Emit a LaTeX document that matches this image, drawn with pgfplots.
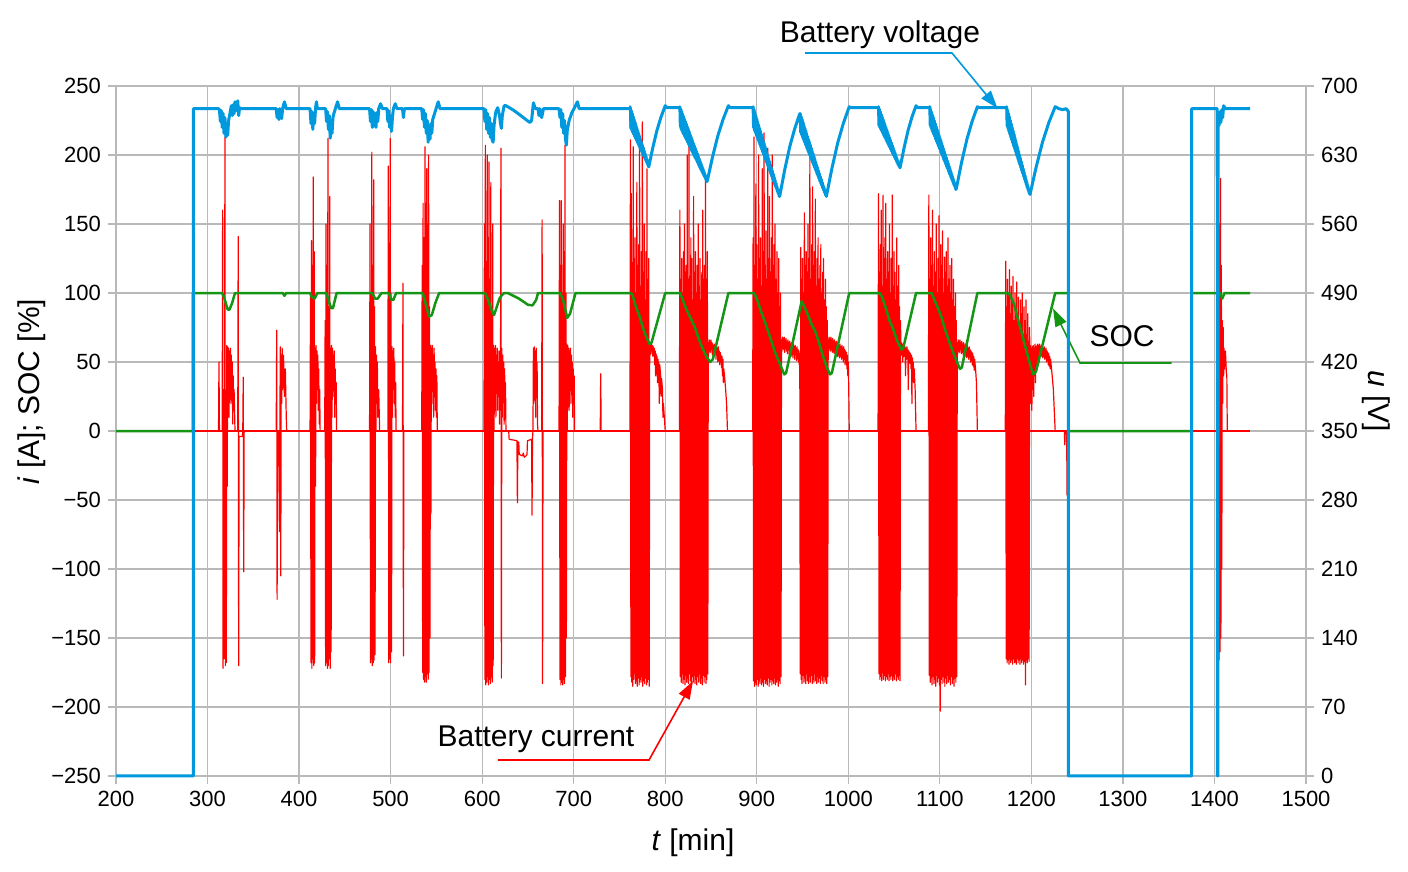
\documentclass[border=0pt]{standalone}
\usepackage{fontspec}
\setmainfont{Liberation Sans}
\usepackage{pgfplots}
\pgfplotsset{compat=1.18}
\usetikzlibrary{arrows.meta}
\definecolor{voltblue}{RGB}{0,153,221}
\definecolor{socgreen}{RGB}{20,150,20}
\definecolor{curred}{RGB}{255,0,0}
\definecolor{gridgray}{RGB}{185,185,185}
\newcommand{\tickfont}{\fontsize{11}{13}\selectfont}
\newcommand{\labfont}{\fontsize{15}{18}\selectfont}
\pgfplotsset{redline/.style={curred, line width=0.6pt, line join=round},
  band/.style={fill=voltblue, draw=voltblue, line width=1pt, line join=round}}
\begin{document}
\begin{tikzpicture}
\useasboundingbox (-58pt,-48pt) rectangle (646pt,388pt);
\begin{axis}[
  width=595pt, height=345pt, scale only axis,
  xmin=200, xmax=1500, ymin=-250, ymax=250,
  xtick={200,300,...,1500},
  ytick={-250,-200,...,250},
  yticklabels={−250,−200,−150,−100,−50,0,50,100,150,200,250},
  xtick pos=bottom, ytick pos=left,
  tick align=outside, major tick length=4pt,
  grid=major, grid style={gridgray, line width=0.6pt},
  axis line style={gridgray, line width=0.6pt},
  tick style={gridgray, line width=0.6pt},
  ticklabel style={font=\tickfont, text=black},
  /pgf/number format/assume math mode=true,
  /pgf/number format/1000 sep={},
  clip=false,
]
% ---- battery current (red)
\addplot[curred, line width=0.8pt] coordinates {(284,0) (1439,0)};
\addplot[redline] coordinates {
(312,0) (312.5,50) (313,0) (316,0) (316.5,160) (317,-172) (317.5,30) (318,-165) (318.5,-60) (319,213) (319.5,-170) (320,-20) (320.5,-168) (321,62) (321.5,-40) (322,61) (322.5,30) (323,60) (323.5,10) (324,58) (324.5,35) (325,60) (325.5,20) (326,55) (326.5,25) (327,50) (327.5,5) (328,40) (328.5,15) (329,30) (330,0) (333,0) (333.5,141) (334,-170) (334.5,-4) (338,-4) (338.5,0) (339,39) (339.5,-102) (340,0)};
\addplot[redline] coordinates {
(375,0) (375.6,73) (376,-122) (376.5,0) (378,0) (378.5,-73) (379,0) (379.5,61) (380,-105) (380.5,55) (381,20) (381.5,60) (382,30) (383,55) (384,25) (385,45) (386,10) (386.5,0)};
\addplot[redline] coordinates {
(412,0) (412.5,100) (413,-168) (413.5,138) (414,-172) (414.5,120) (415,-165) (415.5,184) (416,-170) (416.5,130) (417,-168) (417.5,60) (418,-40) (418.5,62) (419,20) (419.5,58) (420,30) (420.5,55) (421,15) (421.5,45) (422,5) (422.5,30) (423,0)};
\addplot[redline] coordinates {
(428,0) (428.5,80) (429,-170) (429.5,150) (430,-168) (430.5,120) (431,-172) (431.5,212) (432,-170) (432.5,90) (433,-165) (433.5,170) (434,-172) (434.5,60) (435,-160) (435.5,62) (436,10) (436.5,60) (437,25) (437.5,55) (438,30) (438.5,58) (439,10) (439.5,45) (440,20) (440.5,35) (441,0)};
\addplot[redline] coordinates {
(477,0) (477.5,150) (478,-168) (478.5,100) (479,-165) (479.5,202) (480,-170) (480.5,120) (481,-168) (481.5,182) (482,-166) (482.5,90) (483,-162) (483.5,61) (484,0) (484.5,55) (485,20) (485.5,50) (486,10) (487,30) (488,0)};
\addplot[redline] coordinates {
(497,0) (497.5,192) (498,-168) (498.5,130) (499,-165) (499.5,212) (500,-168) (500.5,100) (501,-160) (501.5,61) (502,10) (502.5,58) (503,30) (503.5,60) (504,20) (504.5,50) (505,10) (505.5,35) (506,0) (513,0) (513.5,107) (514,-163) (514.5,0)};
\addplot[redline] coordinates {
(534,0) (534.5,120) (535,-175) (535.5,165) (536,-180) (536.5,140) (537,-182) (537.5,206) (538,-178) (538.5,165) (539,-182) (539.5,190) (540,-176) (540.5,150) (541,-180) (541.5,200) (542,-175) (542.5,90) (543,-150) (543.5,62) (544,-60) (544.5,60) (545,20) (545.5,62) (546,30) (546.5,55) (547,10) (547.5,60) (548,25) (548.5,50) (549,15) (549.5,45) (550,10) (550.5,40) (551,0)};
\addplot[redline] coordinates {
(602,0) (602.5,150) (603,-180) (603.5,207) (604,-184) (604.5,120) (605,-182) (605.5,200) (606,-178) (606.5,140) (607,-184) (607.5,195) (608,-180) (608.5,110) (609,-183) (609.5,180) (610,-178) (610.5,90) (611,-182) (611.5,150) (612,-170) (612.5,62) (613,0) (613.5,60) (614,20) (614.5,62) (615,10) (615.5,55) (616,30) (616.5,60) (617,15) (617.5,50) (618,25) (618.5,58) (619,5) (619.5,50) (620,20) (620.5,205) (621,-179) (621.5,60) (622,10) (622.5,55) (623,25) (623.5,50) (624,5) (624.5,45) (625,15) (625.5,35) (626,0) (629,0) (629.5,-6) (638,-7) (638.5,-52) (639,-8) (640,-8) (640.5,-17) (644,-18) (645,-16) (646,-19) (648,-18) (649,-17) (649.5,-7) (654,-6) (654.5,-61) (655,-5) (655.5,0) (656,60) (656.5,20) (657,61) (657.5,30) (658,58) (658.5,10) (659,60) (659.5,25) (660,50) (660.5,5) (661,0) (665,0) (665.5,153) (666,-183) (666.5,0)};
\addplot[redline] coordinates {
(684,0) (684.5,167) (685,-180) (685.5,120) (686,-184) (686.5,167) (687,-182) (687.5,100) (688,-184) (688.5,150) (689,-180) (689.5,130) (690,-183) (690.5,207) (691,-178) (691.5,100) (692,-150) (692.5,63) (693,0) (693.5,62) (694,30) (694.5,60) (695,15) (695.5,58) (696,35) (696.5,60) (697,20) (697.5,55) (698,40) (698.5,50) (699,10) (699.5,45) (700,30) (700.5,40) (701,0) (729,0) (729.5,41.5) (730,0)};
% burst A
\addplot[redline] coordinates {
(761.5,0) (762,211) (762.5,-178) (763,172) (763.5,-182) (764,110) (764.5,-185) (765,206) (765.5,-180) (766,125) (766.5,-176) (767,140) (767.5,-183) (768,100) (768.5,-181) (769,180) (769.5,-185) (770,120) (770.5,-179) (771,135) (771.5,-184) (772,215) (772.5,-180) (773,105) (773.5,-182) (774,130) (774.5,-178) (775,224) (775.5,-185) (776,115) (776.5,-181) (777,150) (777.5,-183) (778,95) (778.5,-179) (779,130) (779.5,-184) (780,190) (780.5,-182) (781,110) (781.5,-180) (782,125) (782.5,-185)
(783,62) (783.5,55) (784,64) (784.5,58) (785,63) (785.5,56) (786,62) (786.5,54) (787,61) (787.5,55) (788,60) (788.5,48) (789,58) (789.5,40) (790,56) (790.5,50) (791,54) (791.5,35) (792,52) (792.5,45) (793,50) (793.5,20) (794,48) (795,40) (795.5,25) (796,38) (797,30) (797.5,10) (798,20) (799,10) (800,0)};
% burst B
\addplot[redline] coordinates {
(815.5,0) (816,160) (816.5,-178) (817,110) (817.5,-182) (818,125) (818.5,-176) (819,100) (819.5,-183) (820,130) (820.5,-180) (821,150) (821.5,-184) (822,115) (822.5,-177) (823,120) (823.5,-182) (824,200) (824.5,-179) (825,110) (825.5,-183) (826,207) (826.5,-176) (827,105) (827.5,-181) (828,140) (828.5,-184) (829,125) (829.5,-178) (830,95) (830.5,-182) (831,170) (831.5,-177) (832,115) (832.5,-183) (833,130) (833.5,-180) (834,100) (834.5,-184) (835,120) (835.5,-178) (836,150) (836.5,-182) (837,105) (837.5,-176) (838,125) (838.5,-183) (839,95) (839.5,-179) (840,115) (840.5,-184) (841,160) (841.5,-177) (842,110) (842.5,-182) (843,120) (843.5,-178) (844,182) (844.5,-183) (845,110) (845.5,-180) (846,130) (846.5,-176)
(847,64) (847.5,56) (848,66) (848.5,58) (849,65) (849.5,57) (850,66) (850.5,59) (851,64) (851.5,55) (852,63) (852.5,56) (853,62) (853.5,54) (854,63) (854.5,57) (855,61) (855.5,52) (856,62) (856.5,55) (857,60) (857.5,50) (858,61) (858.5,54) (859,58) (859.5,48) (860,57) (860.5,50) (861,55) (861.5,46) (862,54) (862.5,40) (863,52) (863.5,35) (864,45) (865,38) (866,30) (867,20) (868,0)};
% burst C + D
\addplot[redline] coordinates {
(895.5,0) (896,140) (896.5,-181) (897,213) (897.5,-185) (898,120) (898.5,-182) (899,179) (899.5,-184) (900,135) (900.5,-180) (901,110) (901.5,-185) (902,200) (902.5,-181) (903,125) (903.5,-183) (904,140) (904.5,-179) (905,105) (905.5,-184) (906,190) (906.5,-182) (907,130) (907.5,-185) (908,216) (908.5,-180) (909,120) (909.5,-183) (910,145) (910.5,-181) (911,110) (911.5,-184) (912,205) (912.5,-179) (913,125) (913.5,-185) (914,170) (914.5,-182) (915,115) (915.5,-180) (916,140) (916.5,-184) (917,200) (917.5,-181) (918,120) (918.5,-183) (919,135) (919.5,-179) (920,150) (920.5,-184) (921,110) (921.5,-182) (922,130) (922.5,-180) (923,100) (923.5,-185) (924,125) (924.5,-181) (925,90) (925.5,-183) (926,100) (926.5,-178)
(927,66) (927.5,58) (928,68) (928.5,60) (929,67) (929.5,59) (930,68) (930.5,57) (931,66) (931.5,60) (932,67) (932.5,58) (933,65) (933.5,56) (934,66) (934.5,59) (935,64) (935.5,55) (936,65) (936.5,58) (937,63) (937.5,54) (938,64) (938.5,57) (939,62) (939.5,53) (940,63) (940.5,56) (941,61) (941.5,52) (942,62) (942.5,55) (943,60) (943.5,51) (944,61) (944.5,54) (945,59) (945.5,50) (946,58) (946.5,48) (947,56)
(947.5,-176) (948,133) (948.5,-180) (949,110) (949.5,-183) (950,125) (950.5,-177) (951,100) (951.5,-182) (952,158) (952.5,-179) (953,120) (953.5,-183) (954,130) (954.5,-176) (955,115) (955.5,-181) (956,150) (956.5,-183) (957,125) (957.5,-178) (958,202) (958.5,-182) (959,110) (959.5,-177) (960,135) (960.5,-183) (961,177) (961.5,-180) (962,120) (962.5,-182) (963,130) (963.5,-176) (964,168) (964.5,-181) (965,105) (965.5,-183) (966,125) (966.5,-178) (967,140) (967.5,-182) (968,110) (968.5,-179) (969,120) (969.5,-183) (970,135) (970.5,-177) (971,100) (971.5,-181) (972,115) (972.5,-183) (973,125) (973.5,-178) (974,95) (974.5,-182) (975,110) (975.5,-180) (976,90) (976.5,-183) (977,80) (977.5,-178)
(978,66) (978.5,58) (979,68) (979.5,60) (980,67) (980.5,58) (981,68) (981.5,59) (982,66) (982.5,57) (983,67) (983.5,58) (984,65) (984.5,56) (985,66) (985.5,58) (986,64) (986.5,55) (987,65) (987.5,56) (988,63) (988.5,54) (989,64) (989.5,55) (990,62) (990.5,53) (991,63) (991.5,54) (992,61) (992.5,52) (993,62) (993.5,53) (994,60) (994.5,50) (995,61) (995.5,52) (996,59) (996.5,48) (997,58) (997.5,50) (998,57) (998.5,45) (999,55) (999.5,40) (1000,50) (1000.5,30) (1001,0)};
% burst E
\addplot[redline] coordinates {
(1032.5,0) (1033,172) (1033.5,-176) (1034,115) (1034.5,-180) (1035,135) (1035.5,-178) (1036,160) (1036.5,-181) (1037,105) (1037.5,-175) (1038,171) (1038.5,-180) (1039,125) (1039.5,-177) (1040,140) (1040.5,-181) (1041,165) (1041.5,-178) (1042,110) (1042.5,-180) (1043,130) (1043.5,-176) (1044,115) (1044.5,-181) (1045,150) (1045.5,-178) (1046,100) (1046.5,-180) (1047,125) (1047.5,-177) (1048,171) (1048.5,-181) (1049,105) (1049.5,-178) (1050,130) (1050.5,-180) (1051,115) (1051.5,-176) (1052,95) (1052.5,-181) (1053,140) (1053.5,-178) (1054,105) (1054.5,-180) (1055,120) (1055.5,-177) (1056,90) (1056.5,-181) (1057,80)
(1057.5,60) (1058,64) (1058.5,55) (1059,63) (1059.5,50) (1060,62) (1060.5,54) (1061,63) (1061.5,56) (1062,61) (1062.5,40) (1063,60) (1063.5,52) (1064,61) (1064.5,53) (1065,59) (1065.5,30) (1066,58) (1066.5,50) (1067,57) (1067.5,49) (1068,56) (1068.5,45) (1069,55) (1069.5,20) (1070,53) (1070.5,44) (1071,50) (1071.5,35) (1072,45) (1073,30) (1074,0)};
% burst F
\addplot[redline] coordinates {
(1087.5,0) (1088,171) (1088.5,-177) (1089,110) (1089.5,-182) (1090,140) (1090.5,-179) (1091,120) (1091.5,-184) (1092,160) (1092.5,-178) (1093,105) (1093.5,-183) (1094,130) (1094.5,-180) (1095,115) (1095.5,-185) (1096,150) (1096.5,-177) (1097,100) (1097.5,-182) (1098,125) (1098.5,-179) (1099,156) (1099.5,-184) (1100,110) (1100.5,-203) (1101,135) (1101.5,-180) (1102,120) (1102.5,-183) (1103,145) (1103.5,-178) (1104,100) (1104.5,-182) (1105,126) (1105.5,-185) (1106,115) (1106.5,-179) (1107,130) (1107.5,-183) (1108,105) (1108.5,-177) (1109,140) (1109.5,-182) (1110,110) (1110.5,-180) (1111,120) (1111.5,-184) (1112,100) (1112.5,-178) (1113,125) (1113.5,-183) (1114,95) (1114.5,-180) (1115,110) (1115.5,-185) (1116,90) (1116.5,-179) (1117,100) (1117.5,-182) (1118,80) (1118.5,-178)
(1119,64) (1119.5,56) (1120,66) (1120.5,58) (1121,65) (1121.5,57) (1122,66) (1122.5,59) (1123,64) (1123.5,56) (1124,65) (1124.5,58) (1125,63) (1125.5,55) (1126,64) (1126.5,57) (1127,62) (1127.5,54) (1128,63) (1128.5,56) (1129,61) (1129.5,53) (1130,62) (1130.5,55) (1131,60) (1131.5,52) (1132,61) (1132.5,54) (1133,59) (1133.5,50) (1134,58) (1134.5,51) (1135,57) (1135.5,48) (1136,56) (1136.5,47) (1137,54) (1137.5,44) (1138,52) (1139,45) (1140,35) (1141,0)};
% burst G
\addplot[redline] coordinates {
(1171.5,0) (1172,123) (1172.5,-165) (1173,90) (1173.5,-168) (1174,110) (1174.5,-166) (1175,100) (1175.5,-169) (1176,117) (1176.5,-165) (1177,85) (1177.5,-168) (1178,105) (1178.5,-166) (1179,95) (1179.5,-169) (1180,112) (1180.5,-165) (1181,80) (1181.5,-168) (1182,100) (1182.5,-167) (1183,90) (1183.5,-169) (1184,108) (1184.5,-165) (1185,85) (1185.5,-168) (1186,97) (1186.5,-166) (1187,75) (1187.5,-169) (1188,95) (1188.5,-165) (1189,85) (1189.5,-168) (1190,100) (1190.5,-166) (1191,70) (1191.5,-169) (1192,90) (1192.5,-167) (1193,80) (1193.5,-184) (1194,95) (1194.5,-166) (1195,70) (1195.5,-168) (1196,85) (1196.5,-165) (1197,65) (1197.5,-167) (1198,75)
(1198.5,40) (1199,62) (1199.5,20) (1200,60) (1200.5,15) (1201,61) (1201.5,30) (1202,62) (1202.5,25) (1203,60) (1203.5,40) (1204,63) (1204.5,35) (1205,61) (1205.5,50) (1206,62) (1206.5,45) (1207,63) (1207.5,55) (1208,62) (1208.5,50) (1209,63) (1209.5,56) (1210,61) (1210.5,54) (1211,62) (1211.5,55) (1212,61) (1212.5,53) (1213,60) (1213.5,54) (1214,61) (1214.5,52) (1215,59) (1215.5,53) (1216,60) (1216.5,50) (1217,58) (1217.5,51) (1218,57) (1218.5,48) (1219,56) (1219.5,47) (1220,54) (1220.5,45) (1221,52) (1222,45) (1223,38) (1224,30) (1225,15) (1226,0)
(1236,0) (1236.5,-10) (1237,0) (1238.5,0) (1239,-46.5) (1239.5,0)};
% last burst
\addplot[redline] coordinates {
(1404,0) (1404.5,100) (1405,-166) (1405.5,150) (1406,-160) (1406.5,183) (1407,-150) (1407.5,120) (1408,-100) (1408.5,80) (1409,20) (1409.5,75) (1410,40) (1410.5,60) (1411,45) (1412,58) (1413,42) (1413.5,40) (1414,0)};
% ---- SOC (green)
\addplot[socgreen, line width=1.25pt, line join=round] coordinates {
(200,0) (284,0) (284,100) (316,100) (318,97) (322,88) (324,88) (327,93) (330,100) (382,100) (384,98) (386,100) (412,100) (414,97) (417,96) (420,100) (430,100) (432,95) (435,89) (437,89) (441,100) (480,100) (483,96) (486,96) (490,100) (498,100) (501,95) (503,95) (506,100) (535,100) (538,93) (542,83) (545,84) (549,93) (553,100) (603,100) (606,96) (610,88) (613,84) (616,90) (619,96) (621,98) (624,100) (628,100) (640,96) (650,91.5) (655,91) (659,95) (661,100) (685,100) (688,96) (693,82) (696,85) (702,100) (762,100) (764,99) (768,90) (772,83) (776,74) (780,67) (783,63) (785,64) (800,100) (816,100) (818,97) (822,90) (826,84) (829,80) (832,76) (836,68) (840,61) (845,54) (849,50) (852,52) (869,100) (897,100) (900,96) (905,86) (910,77) (915,67) (920,57) (925,49) (930,41) (932,42) (949,94) (952,90) (956,84) (960,77) (964,72) (968,64) (972,55) (976,47) (980,41) (982,42) (1001,100) (1034,100) (1037,97) (1041,89) (1045,80) (1049,74) (1053,66) (1058,59) (1060,60) (1074,100) (1091,100) (1094,95) (1098,89) (1102,82) (1106,73) (1110,65) (1114,58) (1118,51) (1122,45) (1124,46) (1141,100) (1175,100) (1177,98) (1181,92) (1185,82) (1189,72) (1193,62) (1197,52) (1200,45) (1202,41) (1205,43) (1226,100) (1240.5,100) (1240.5,0) (1375,0) (1375,100) (1406,100) (1408.5,96) (1411,100) (1439,100)};
% ---- annotations
\draw[voltblue, line width=0.8pt, -{Triangle[length=9pt,width=6pt]}] (axis cs:952.7,273.9) -- (axis cs:1113.3,273.9) -- (axis cs:1163,233.8);
\node[anchor=base, font=\labfont] at (axis cs:1034.6,281.4) {Battery voltage};
\draw[socgreen, line width=0.8pt, -{Triangle[length=9pt,width=6pt]}] (axis cs:1353.3,49.3) -- (axis cs:1253.1,49.3) -- (axis cs:1223.6,88.8);
\node[anchor=base, font=\labfont] at (axis cs:1299,61.1) {SOC};
\draw[curred, line width=0.8pt, -{Triangle[length=9pt,width=6pt]}] (axis cs:617.3,-238.4) -- (axis cs:782.3,-238.4) -- (axis cs:830.3,-181.2);
\node[anchor=base, font=\labfont] at (axis cs:658.8,-228.8) {Battery current};
% ---- axis labels
\node[rotate=90, anchor=center, font=\labfont] at (rel axis cs:-0.0708,0.5572) {\textit{i} [A]; SOC [\%]};
\node[rotate=-90, anchor=center, font=\labfont] at (rel axis cs:1.0594,0.5435) {\textit{u} [V]};
\node[anchor=center, font=\labfont] at (rel axis cs:0.4849,-0.0964) {\textit{t} [min]};
\end{axis}
\begin{axis}[
  width=595pt, height=345pt, scale only axis,
  xmin=200, xmax=1500, ymin=0, ymax=700,
  hide x axis, axis y line*=right,
  ytick={0,70,...,700},
  tick align=outside, major tick length=4pt,
  axis line style={gridgray, line width=0.6pt},
  tick style={gridgray, line width=0.6pt},
  ticklabel style={font=\tickfont, text=black},
  /pgf/number format/assume math mode=true,
  clip=false,
]
% voltage fluctuation bands during the driving bursts
\addplot[band] coordinates {(761.5,680) (782,618) (779.5,623) (774.5,633) (769.5,643) (764.5,653) (762,659) (761.5,680)};
\addplot[band] coordinates {(816,679) (846,604) (843.5,607) (838.5,616) (833.5,626) (828.5,635) (823.5,645) (818.5,654) (816.5,659) (816,679)};
\addplot[band] coordinates {(896,679) (925,588) (922.5,593) (917.5,605.5) (912.5,618) (907.5,630.5) (902.5,643) (897.5,655) (896.5,658) (896,679)};
\addplot[band] coordinates {(947.5,672) (976,588) (973,594.5) (968,606) (963,617.5) (958,629.5) (953,641) (948,653) (947.5,672)};
\addplot[band] coordinates {(1033,679) (1056.5,617) (1053.5,622) (1048.5,631.5) (1043.5,641) (1038.5,650.5) (1033.5,660) (1033,679)};
\addplot[band] coordinates {(1089,679) (1118,596) (1115.5,599.5) (1110.5,611) (1105.5,623) (1100.5,634.5) (1095.5,646) (1090.5,657.5) (1089.5,660) (1089,679)};
\addplot[band] coordinates {(1173,679) (1198.5,590) (1195.5,597) (1190.5,611.5) (1185.5,625.5) (1180.5,639.5) (1175.5,654) (1173.5,659.5) (1173,679)};
\addplot[voltblue, line width=1.5pt, line join=round] coordinates {
(200,0) (284.5,0) (284.5,677) (312,677)
(313,676) (314,664) (315,675) (316,658) (317,672) (318,652) (319,668) (320,648) (321,662) (322,650) (323,665) (324,670) (325,675) (326,680) (327,670) (328,681) (329,672) (330,684) (331,675) (333,685) (334,670) (335,678) (336,677)
(375,677) (376,668) (377,676) (378,666) (379,677) (381,667) (382,677) (384,684) (386,677)
(412,677) (413,662) (414,674) (415,656) (416,672) (417,662) (418,678) (419,684) (420,677)
(429,677) (430,664) (431,674) (432,656) (433,670) (434,647) (435,665) (436,652) (437,668) (438,672) (440,678) (442,684) (444,677)
(477,677) (478,664) (479,676) (480,658) (481,674) (482,660) (483,672) (484,658) (485,673) (486,664) (487,677) (489,682) (491,677)
(496,677) (497,664) (498,675) (499,658) (500,670) (501,654) (502,668) (503,677) (505,682) (507,677) (513,677) (514,668) (515,677)
(534,677) (535,666) (536,676) (537,658) (538,672) (539,652) (540,665) (541,643) (542,660) (543,646) (544,662) (545,652) (546,666) (548,672) (550,678) (552,684) (554,677)
(602,677) (603,664) (604,676) (605,656) (606,672) (607,652) (608,668) (609,648) (610,662) (611,645) (612,643) (613,660) (614,668) (615,674) (617,678) (619,670) (620,662) (621,657) (622,670) (624,680) (626,680) (628,679) (635,675) (645,668) (652,663) (654,665) (656,683) (658,677) (661,677) (662,670) (663,677) (665,668) (667,677)
(684,677) (685,668) (686,676) (687,658) (688,672) (689,652) (690,665) (691,646) (692,640) (693,655) (695,665) (698,673) (701,678) (704,684) (706,677) (761,677)
(762,677.6) (762.5,657) (763,674.7) (763.5,655) (764,671.8) (764.5,653) (765,668.9) (765.5,651) (766,666) (766.5,649) (767,663.2) (767.5,647) (768,660.3) (768.5,645) (769,657.4) (769.5,643) (770,654.5) (770.5,641) (771,651.7) (771.5,639) (772,648.8) (772.5,637) (773,645.9) (773.5,635) (774,643) (774.5,633) (775,640.1) (775.5,631) (776,637.3) (776.5,629) (777,634.4) (777.5,627) (778,631.5) (778.5,625) (779,628.6) (779.5,623) (780,625.7) (780.5,621) (781,622.8) (781.5,619) (782,618)
(786.5,637.8) (791,655.2) (795.5,668.8) (800,680) (802,678) (816,678)
(816,679) (816.5,659) (817,676.5) (817.5,656) (818,674) (818.5,654) (819,671.5) (819.5,652) (820,669) (820.5,650.5) (821,666.5) (821.5,648.5) (822,664) (822.5,646.5) (823,661.5) (823.5,645) (824,659) (824.5,643) (825,656.5) (825.5,641) (826,654) (826.5,639) (827,651.5) (827.5,637) (828,649) (828.5,635) (829,646.5) (829.5,633.5) (830,644) (830.5,631.5) (831,641.5) (831.5,629.5) (832,639) (832.5,627.5) (833,636.5) (833.5,626) (834,634) (834.5,624) (835,631.5) (835.5,622) (836,629) (836.5,620) (837,626.5) (837.5,618) (838,624) (838.5,616) (839,621.5) (839.5,614.5) (840,619) (840.5,612.5) (841,616.5) (841.5,610.5) (842,614) (842.5,608.5) (843,611.5) (843.5,607) (844,609) (844.5,605) (845,606.5) (845.5,603) (846,604)
(851.75,628.3) (857.5,649.6) (863.25,666.3) (869,680) (871,678) (896,678)
(896,679) (896.5,658) (897,675.9) (897.5,655) (898,672.8) (898.5,653) (899,669.7) (899.5,650) (900,666.6) (900.5,648) (901,663.5) (901.5,645.5) (902,660.4) (902.5,643) (903,657.3) (903.5,640.5) (904,654.2) (904.5,638) (905,651.1) (905.5,635.5) (906,648) (906.5,633) (907,644.9) (907.5,630.5) (908,641.8) (908.5,628) (909,638.7) (909.5,625.5) (910,635.6) (910.5,623) (911,632.5) (911.5,620.5) (912,629.4) (912.5,618) (913,626.3) (913.5,615.5) (914,623.2) (914.5,613) (915,620.1) (915.5,610.5) (916,617) (916.5,608) (917,613.9) (917.5,605.5) (918,610.8) (918.5,603) (919,607.7) (919.5,600.5) (920,604.6) (920.5,598) (921,601.5) (921.5,596) (922,598.4) (922.5,593) (923,595.3) (923.5,591) (924,592.2) (924.5,588) (925,588)
(930.5,614.9) (936,638.4) (941.5,656.9) (947,672)
(947.5,672) (948,653) (948.5,669.1) (949,650.5) (949.5,666.2) (950,648) (950.5,663.3) (951,646) (951.5,660.4) (952,643.5) (952.5,657.5) (953,641) (953.5,654.6) (954,639) (954.5,651.7) (955,636.5) (955.5,648.8) (956,634) (956.5,645.9) (957,632) (957.5,643) (958,629.5) (958.5,640.1) (959,627) (959.5,637.2) (960,625) (960.5,634.3) (961,622.5) (961.5,631.4) (962,620) (962.5,628.5) (963,617.5) (963.5,625.6) (964,615.5) (964.5,622.7) (965,613) (965.5,619.8) (966,610.5) (966.5,616.9) (967,608.5) (967.5,614) (968,606) (968.5,611.1) (969,603.5) (969.5,608.2) (970,601.5) (970.5,605.3) (971,599) (971.5,602.4) (972,596.5) (972.5,599.5) (973,594.5) (973.5,596.6) (974,592) (974.5,593.7) (975,589.5) (975.5,590.8) (976,588)
(982.25,617.1) (988.5,642.6) (994.75,662.6) (1001,679) (1003,678) (1033,678)
(1033,679) (1033.5,660) (1034,676.4) (1034.5,658) (1035,673.8) (1035.5,656) (1036,671.2) (1036.5,654.5) (1037,668.6) (1037.5,652.5) (1038,666) (1038.5,650.5) (1039,663.4) (1039.5,648.5) (1040,660.8) (1040.5,647) (1041,658.2) (1041.5,645) (1042,655.6) (1042.5,643) (1043,653) (1043.5,641) (1044,650.4) (1044.5,639) (1045,647.8) (1045.5,637.5) (1046,645.2) (1046.5,635.5) (1047,642.6) (1047.5,633.5) (1048,640) (1048.5,631.5) (1049,637.4) (1049.5,629.5) (1050,634.8) (1050.5,628) (1051,632.2) (1051.5,626) (1052,629.6) (1052.5,624) (1053,627) (1053.5,622) (1054,624.4) (1054.5,620) (1055,621.8) (1055.5,618.5) (1056,619.2) (1056.5,617)
(1060.9,637.2) (1065.25,654.8) (1069.6,668.7) (1074,680) (1076,678) (1089,678)
(1089,679) (1089.5,660) (1090,676.1) (1090.5,657.5) (1091,673.3) (1091.5,655) (1092,670.4) (1092.5,653) (1093,667.6) (1093.5,650.5) (1094,664.7) (1094.5,648.5) (1095,661.8) (1095.5,646) (1096,659) (1096.5,643.5) (1097,656.1) (1097.5,641.5) (1098,653.3) (1098.5,639) (1099,650.4) (1099.5,636.5) (1100,647.5) (1100.5,634.5) (1101,644.7) (1101.5,632) (1102,641.8) (1102.5,630) (1103,639) (1103.5,627.5) (1104,636.1) (1104.5,625) (1105,633.2) (1105.5,623) (1106,630.4) (1106.5,620.5) (1107,627.5) (1107.5,618) (1108,624.7) (1108.5,616) (1109,621.8) (1109.5,613.5) (1110,618.9) (1110.5,611) (1111,616.1) (1111.5,609) (1112,613.2) (1112.5,606.5) (1113,610.4) (1113.5,604.5) (1114,607.5) (1114.5,602) (1115,604.6) (1115.5,599.5) (1116,601.8) (1116.5,597.5) (1117,598.9) (1117.5,595) (1118,596)
(1123.75,622.6) (1129.5,645.8) (1135.25,664.1) (1141,679) (1143,678) (1173,678)
(1173,679) (1173.5,659.5) (1174,675.5) (1174.5,657) (1175,672) (1175.5,654) (1176,668.5) (1176.5,651) (1177,665) (1177.5,648) (1178,661.5) (1178.5,645.5) (1179,658.1) (1179.5,642.5) (1180,654.6) (1180.5,639.5) (1181,651.1) (1181.5,637) (1182,647.6) (1182.5,634) (1183,644.1) (1183.5,631) (1184,640.6) (1184.5,628.5) (1185,637.1) (1185.5,625.5) (1186,633.6) (1186.5,622.5) (1187,630.1) (1187.5,620) (1188,626.7) (1188.5,617) (1189,623.2) (1189.5,614) (1190,619.7) (1190.5,611.5) (1191,616.2) (1191.5,608.5) (1192,612.7) (1192.5,605.5) (1193,609.2) (1193.5,603) (1194,605.7) (1194.5,600) (1195,602.2) (1195.5,597) (1196,598.7) (1196.5,594.5) (1197,595.2) (1197.5,591.5) (1198,591.8) (1198.5,590)
(1205.4,618.5) (1212.25,643.4) (1219.1,663) (1226,679) (1230,677) (1234,676) (1238,677) (1240.5,674) (1240.5,0) (1375,0) (1375,677) (1403,677) (1403.3,0) (1403.7,0) (1404,672) (1405,660) (1406,674) (1407,663) (1408,676) (1409,668) (1410,680) (1412,677) (1439,677)};
\end{axis}
\end{tikzpicture}
\end{document}
